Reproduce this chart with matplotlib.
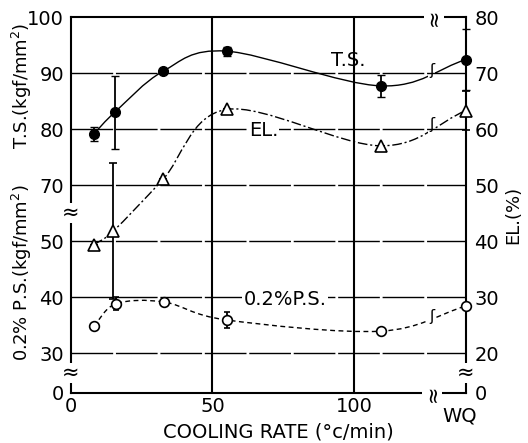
import numpy as np
import matplotlib
matplotlib.use("Agg")
import matplotlib.pyplot as plt
import matplotlib.transforms as mtransforms
from matplotlib.path import Path
from matplotlib.patches import PathPatch, Rectangle

# cooling rate (degC/min); the last point is water quench (WQ), drawn past a break
WQ_X = 139.6
ts_x = [8, 15.5, 32.5, 55, 109.5, WQ_X]
ts_val = [79.1, 83.0, 90.3, 93.9, 87.7, 92.4]
ts_err = [1.2, 6.5, 0.0, 0.8, 1.9, 5.4]

el_x = [8, 15, 32.5, 55, 109.5, WQ_X]
el_val = [39.3, 41.8, 51.0, 63.5, 57.0, 63.3]
el_err = [0.0, 12.2, 0.0, 0.0, 0.0, 3.5]

ps_x = [8, 16, 33, 55, 109.5, WQ_X]
ps_val = [34.8, 38.8, 39.1, 35.9, 33.9, 38.4]
ps_err = [0.0, 1.2, 0.0, 1.5, 0.0, 0.0]

left_labels = ["0", "30", "40", "50", "70", "80", "90", "100"]
right_labels = ["0", "20", "30", "40", "50", "60", "70", "80"]
x_ticks = [0, 50, 100, WQ_X]
x_labels = ["0", "50", "100", "WQ"]

# the chart stacks three broken scales on one frame; map each to a common height
BOTTOM = 0.286
def ts_pos(v):
    return 4 + (np.asarray(v, float) - 70) / 10
def ps_pos(v):
    return 1 + (np.asarray(v, float) - 30) / 10
def el_pos(v):
    return 1 + (np.asarray(v, float) - 20) / 10


def smooth_path(xs, ys):
    pts = np.column_stack([xs, ys])
    ext = np.vstack([2 * pts[0] - pts[1], pts, 2 * pts[-1] - pts[-2]])
    verts = [pts[0]]
    codes = [Path.MOVETO]
    for i in range(len(pts) - 1):
        p0, p1, p2, p3 = ext[i], ext[i + 1], ext[i + 2], ext[i + 3]
        verts += [p1 + (p2 - p0) / 6, p2 - (p3 - p1) / 6, p2]
        codes += [Path.CURVE4] * 3
    return Path(verts, codes)


def draw_curve(ax, xs, ys, **kw):
    path = smooth_path(xs, ys)
    for x0, x1 in [(-5, 126.3), (128.8, 150)]:
        patch = PathPatch(path, fill=False, **kw)
        ax.add_patch(patch)
        patch.set_clip_path(Rectangle((x0, -5), x1 - x0, 20, transform=ax.transData))
    # break mark on the curve
    ym = ys[-2] + (ys[-1] - ys[-2]) * (127.5 - xs[-2]) / (xs[-1] - xs[-2])
    ax.text(127.5, ym, "ʃ", ha="center", va="center", fontsize=11, zorder=6)


fig = plt.figure(figsize=(5.28, 4.43), dpi=100)
ax = fig.add_axes([71 / 528, 50 / 443, 395 / 528, 376 / 443])
ax.set_xlim(0, WQ_X)
ax.set_ylim(BOTTOM, 7)

# grid
for p in range(1, 7):
    ax.axhline(p, color="black", lw=1.0, ls=(0, (30, 2)), zorder=1)
for xv in [50, 100]:
    ax.axvline(xv, color="black", lw=1.5, zorder=1)

for s in ax.spines.values():
    s.set_linewidth(1.5)

# curves
draw_curve(ax, ts_x, ts_pos(ts_val), color="black", lw=1.0, zorder=3)
draw_curve(ax, el_x, el_pos(el_val), color="black", lw=1.0,
           linestyle=(0, (7, 2, 1.5, 2)), zorder=3)
draw_curve(ax, ps_x, ps_pos(ps_val), color="black", lw=1.0,
           linestyle=(0, (3.5, 2.5)), zorder=3)

# markers with scatter bands
eb = []
eb.append(ax.errorbar(ts_x, ts_pos(ts_val), yerr=np.array(ts_err) / 10, fmt="o",
                      ms=7, color="black", ecolor="black", elinewidth=1.3,
                      capsize=3, zorder=4))
eb.append(ax.errorbar(el_x, el_pos(el_val), yerr=np.array(el_err) / 10, fmt="^",
                      ms=8, mfc="white", mec="black", mew=1.2, ecolor="black",
                      elinewidth=1.3, capsize=3, zorder=4))
eb.append(ax.errorbar(ps_x, ps_pos(ps_val), yerr=np.array(ps_err) / 10, fmt="o",
                      ms=7, mfc="white", mec="black", mew=1.2, ecolor="black",
                      elinewidth=1.3, capsize=2.5, zorder=4))
for container in eb:
    for artist in container.get_children():
        artist.set_clip_on(False)

# axis ticks
ticks_y = [BOTTOM, 1, 2, 3, 4, 5, 6, 7]
ax.set_yticks(ticks_y)
ax.set_yticklabels(left_labels)
ax.set_xticks(x_ticks)
ax.set_xticklabels(x_labels)
ax.tick_params(length=0, labelsize=14, pad=5)
ax.tick_params(axis="x", pad=3)
wq = ax.get_xticklabels()[-1]
wq.set_transform(wq.get_transform() +
                 mtransforms.ScaledTranslation(-0.06, -0.09, fig.dpi_scale_trans))
ax2 = ax.twinx()
ax2.set_ylim(ax.get_ylim())
ax2.set_yticks(ticks_y)
ax2.set_yticklabels(right_labels)
ax2.tick_params(length=0, labelsize=14, pad=6)
for s in ax2.spines.values():
    s.set_visible(False)

# axis break marks
brk = dict(ha="center", va="center", fontsize=15, zorder=7, clip_on=False,
           bbox=dict(facecolor="white", edgecolor="none", pad=0.2))
ax.text(0, 3.5, "≈", **brk)
ax.text(0, 0.64, "≈", **brk)
ax.text(WQ_X, 0.64, "≈", **brk)
ax.text(127.6, BOTTOM, "≈", rotation=90, **brk)
ax.text(128.3, 7, "≈", rotation=90, **brk)

# in-plot labels
lbl = dict(fontsize=14, ha="center", va="center", zorder=5)
ax.text(97.9, 6.23, "T.S.", **lbl)
ax.text(68, 4.98, "EL.", bbox=dict(facecolor="white", edgecolor="none", pad=1), **lbl)
ax.text(75.6, 1.95, "0.2%P.S.", bbox=dict(facecolor="white", edgecolor="none", pad=1), **lbl)

# axis titles
fig.text(22 / 528, 1 - 86 / 443, "T.S.(kgf/mm$^2$)", rotation=90,
         ha="center", va="center", fontsize=13)
fig.text(22 / 528, 1 - 273 / 443, "0.2% P.S.(kgf/mm$^2$)", rotation=90,
         ha="center", va="center", fontsize=13)
fig.text(513 / 528, 1 - 215 / 443, "EL.(%)", rotation=90,
         ha="center", va="center", fontsize=13)
fig.text(278 / 528, 1 - 432 / 443, "COOLING RATE (°c/min)",
         ha="center", va="center", fontsize=14)

fig.savefig("out.png", dpi=100, facecolor="white")
